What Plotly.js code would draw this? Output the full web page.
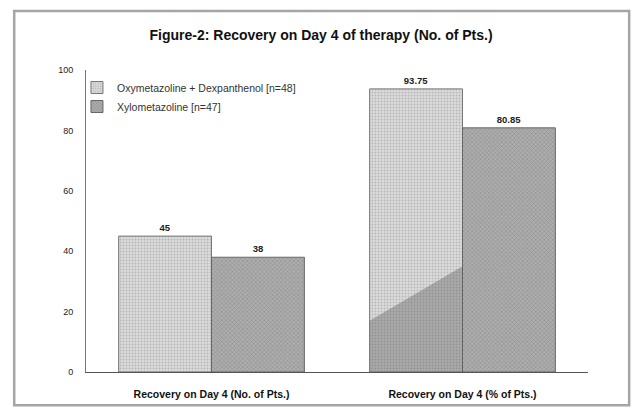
<!DOCTYPE html>
<html><head><meta charset="utf-8">
<script src="https://cdn.plot.ly/plotly-3.0.1.min.js"></script>
<style>html,body{margin:0;padding:0;background:#fff;}#chart{width:632px;height:408px;}</style>
</head><body><div id="chart"></div>
<script>
var categories = ["Recovery on Day 4 (No. of Pts.)", "Recovery on Day 4 (% of Pts.)"];
var seriesNames = ["Oxymetazoline + Dexpanthenol [n=48]", "Xylometazoline [n=47]"];
var oxyValues = [45, 93.75];
var xyloValues = [38, 80.85];
var oxyLabels = ["45", "93.75"];
var xyloLabels = ["38", "80.85"];
var yTicks = [0, 20, 40, 60, 80, 100];

var font = "Liberation Sans, Arial, sans-serif";
var bargap = 0.26;

var traces = [
  {type: "bar", name: seriesNames[0], x: categories, y: oxyValues,
   text: oxyLabels.map(function (s) { return "<b>" + s + "</b>"; }),
   textposition: "outside", cliponaxis: false,
   textfont: {family: font, size: 9.5, color: "#222"},
   marker: {color: "#d6d6d6", line: {color: "#777", width: 1},
     pattern: {shape: ".", fgcolor: "#b8b8b8", bgcolor: "#dcdcdc", size: 3, solidity: 0.35}}},
  {type: "bar", name: seriesNames[1], x: categories, y: xyloValues,
   text: xyloLabels.map(function (s) { return "<b>" + s + "</b>"; }),
   textposition: "outside", cliponaxis: false,
   textfont: {family: font, size: 9.5, color: "#222"},
   marker: {color: "#a6a6a6", line: {color: "#666", width: 1},
     pattern: {shape: "x", fgcolor: "#8a8a8a", bgcolor: "#adadad", size: 3, solidity: 0.3}}}
];

var x0 = 1 - (1 - bargap) / 2, x1 = 1;
var layout = {
  width: 632, height: 408,
  margin: {l: 86, r: 44, t: 70, b: 36},
  paper_bgcolor: "#fff", plot_bgcolor: "#fff",
  barmode: "group", bargap: bargap, bargroupgap: 0,
  showlegend: true,
  title: {text: "<b>Figure-2: Recovery on Day 4 of therapy (No. of Pts.)</b>",
    font: {family: font, size: 14, color: "#111"}, x: 0.508, xref: "container", y: 0.925, yref: "container"},
  legend: {x: -0.018, y: 0.99, xanchor: "left", yanchor: "top", bgcolor: "rgba(0,0,0,0)",
    font: {family: font, size: 10.5, color: "#333"}, itemwidth: 30, tracegroupgap: 0},
  xaxis: {type: "category", showline: true, linecolor: "#555", linewidth: 1.2,
    ticks: "", tickfont: {family: font, size: 10.5, color: "#111"}, ticklabelstandoff: 12,
    range: [-0.5, 1.5], fixedrange: true,
    tickvals: categories, ticktext: categories.map(function (s) { return "<b>" + s + "</b>"; })},
  yaxis: {range: [0, 100], tickvals: yTicks, showline: true, linecolor: "#777", linewidth: 1,
    showgrid: false, zeroline: false, ticks: "", ticklen: 0,
    tickfont: {family: font, size: 9, color: "#222"}, ticklabelstandoff: 10},
  shapes: [
    {type: "path", xref: "x", yref: "y",
     path: "M" + x0 + ",0 L" + x0 + ",17 L" + x1 + ",35 L" + x1 + ",0 Z",
     fillcolor: "rgba(90,90,90,0.38)", line: {width: 0}, layer: "above"},
    {type: "rect", xref: "paper", yref: "paper", x0: -0.143, x1: 1.082, y0: -0.11, y1: 1.195,
     line: {color: "#a5a5a5", width: 2.5}, fillcolor: "rgba(0,0,0,0)", layer: "below"}
  ]
};
Plotly.newPlot("chart", traces, layout, {displayModeBar: false, staticPlot: true});
</script></body></html>
